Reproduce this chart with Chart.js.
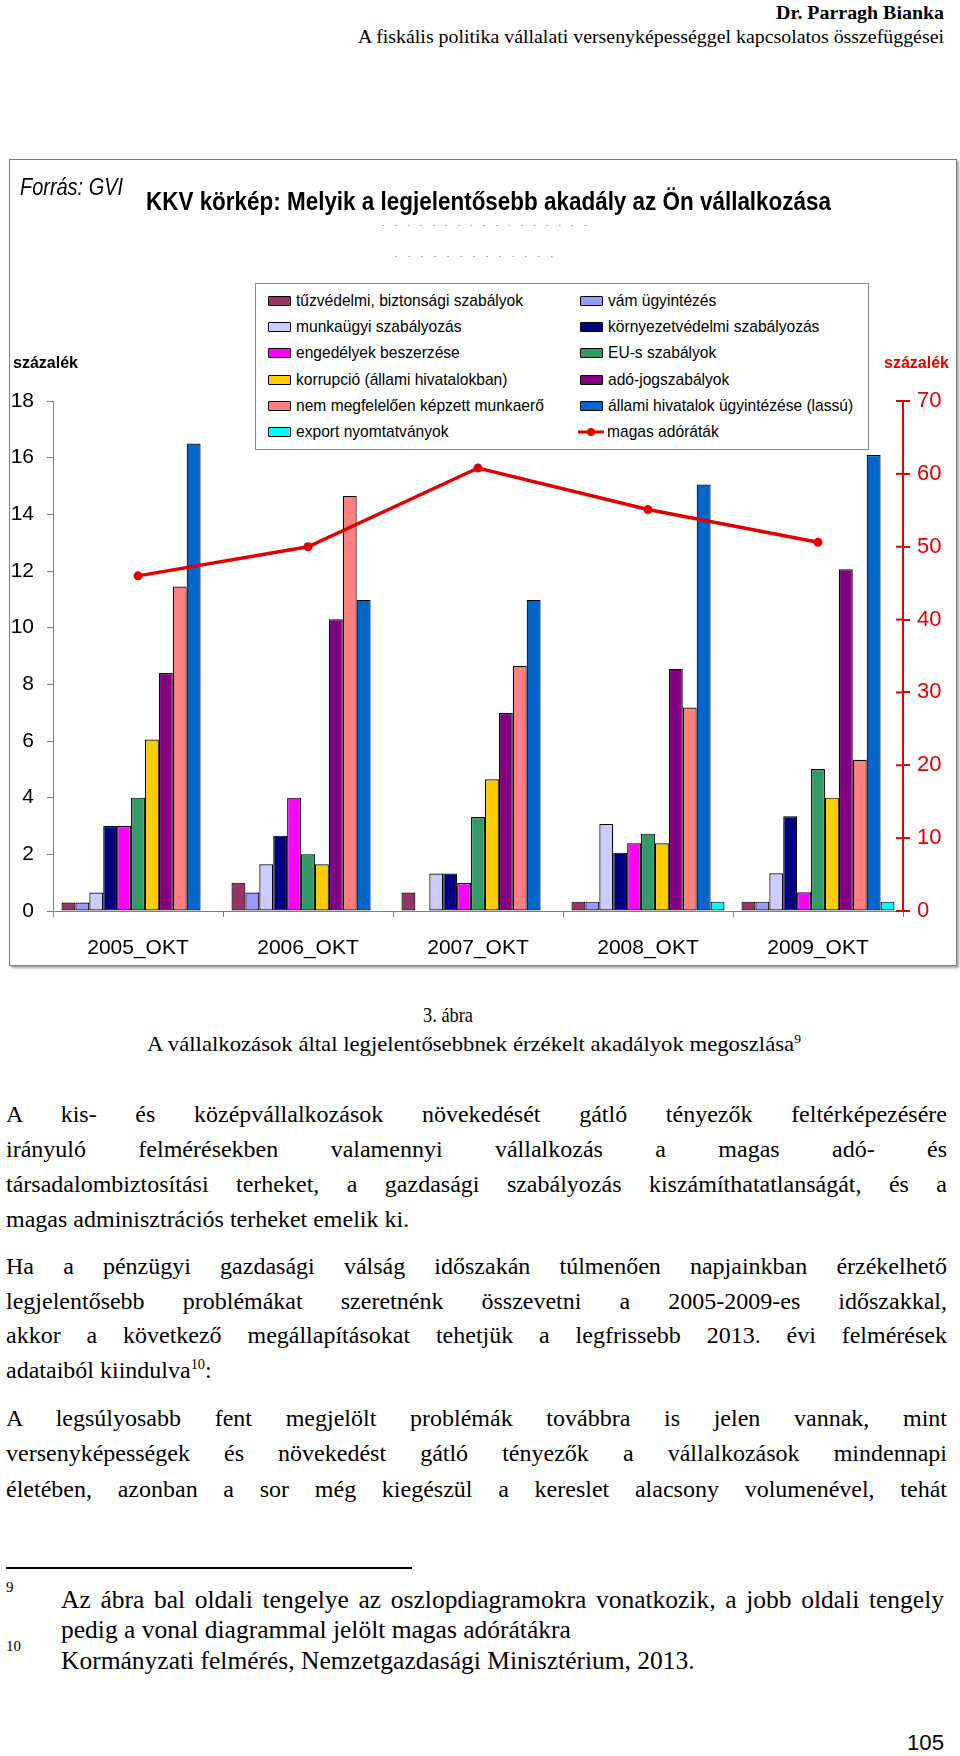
<!DOCTYPE html>
<html lang="hu">
<head>
<meta charset="utf-8">
<script src="https://cdn.jsdelivr.net/npm/chart.js@4.4.1/dist/chart.umd.min.js"></script>
<style>
  html, body { margin: 0; padding: 0; background: #fff; }
  #page { position: relative; width: 960px; height: 1756px; overflow: hidden; font-family: 'Liberation Serif', 'Times New Roman', serif; color: #000; }
  .abs { position: absolute; white-space: nowrap; }
  .sans { font-family: 'Liberation Sans', Arial, sans-serif; }
  .dots { color: #a0a0a0; font-size: 9px; letter-spacing: 1px; }
  #frame { position: absolute; left: 9px; top: 159px; width: 946px; height: 805px; border: 1px solid #7f7f7f; box-shadow: 2px 2px 2px rgba(0,0,0,0.35); background: #fff; }
  #chartBox { position: absolute; left: 0; top: 0; width: 946px; height: 805px; }
  #legend { position: absolute; left: 255px; top: 283px; width: 612px; height: 161px; border: 1px solid #8c8c8c; background: #fff;
            display: grid; grid-template-columns: 312px 300px; grid-auto-rows: 26.2px; padding-top: 4px; box-sizing: content-box; }
  #legend .it { display: flex; align-items: center; font-size: 17px; white-space: nowrap; }
  #legend .it .t { display: inline-block; transform: scaleX(0.917); transform-origin: left center; }
  #legend .sw { width: 21px; height: 8px; border: 1.5px solid #000; border-radius: 1px; margin: 0 5px 0 12px; flex: none; }
  #legend .lk { width: 26px; height: 10px; margin: 0 3px 0 10px; flex: none; }
  .ln { position: absolute; left: 6px; height: 35px; line-height: 35px; font-size: 24px; white-space: nowrap; }
  .fn { position: absolute; left: 61px; height: 30px; line-height: 30px; font-size: 25.5px; white-space: nowrap; }
  sup { font-size: 60%; line-height: 0; vertical-align: 0.6em; }
</style>
</head>
<body>
<div id="page">
  <div class="abs fit" data-w="168" style="left:776px;top:2px;font-size:19px;font-weight:bold;">Dr. Parragh Bianka</div>
  <div class="abs fit" data-w="586" style="left:358px;top:26px;font-size:19px;">A fiskális politika vállalati versenyképességgel kapcsolatos összefüggései</div>

  <div id="frame">
    <div id="chartBox"><canvas id="myChart"></canvas></div>
  </div>
  <div class="abs sans fit" data-w="103" style="left:20px;top:174px;font-size:23px;font-style:italic;">Forrás: GVI</div>
  <div class="abs sans fit" data-w="685" style="left:146px;top:187px;font-size:25px;font-weight:bold;">KKV körkép: Melyik a legjelentősebb akadály az Ön vállalkozása</div>
  <div class="abs sans dots fit" data-w="208" style="left:381px;top:218px;">. . . .  . . . .  . . . . . . . . .</div>
  <div class="abs sans dots fit" data-w="162" style="left:394px;top:249px;">. . . . . .  . . . . . . .</div>
  <div class="abs sans" style="left:13px;top:354px;font-size:16px;font-weight:bold;">százalék</div>
  <div class="abs sans" style="left:884px;top:354px;font-size:16px;font-weight:bold;color:#e00000;">százalék</div>
  <div id="legend" class="sans"></div>

  <div class="abs fit" data-w="50" style="left:423px;top:1002px;font-size:22px;">3. ábra</div>
  <div class="abs fit" data-w="654" style="left:147px;top:1031px;font-size:22px;">A vállalkozások által legjelentősebbnek érzékelt akadályok megoszlása<sup>9</sup></div>

  <div class="ln just" style="top:1097px;">A kis- és középvállalkozások növekedését gátló tényezők feltérképezésére</div>
  <div class="ln just" style="top:1132px;">irányuló felmérésekben valamennyi vállalkozás a magas adó- és</div>
  <div class="ln just" style="top:1167px;">társadalombiztosítási terheket, a gazdasági szabályozás kiszámíthatatlanságát, és a</div>
  <div class="ln" style="top:1202px;">magas adminisztrációs terheket emelik ki.</div>

  <div class="ln just" style="top:1249px;">Ha a pénzügyi gazdasági válság időszakán túlmenően napjainkban érzékelhető</div>
  <div class="ln just" style="top:1284px;">legjelentősebb problémákat szeretnénk összevetni a 2005-2009-es időszakkal,</div>
  <div class="ln just" style="top:1318px;">akkor a következő megállapításokat tehetjük a legfrissebb 2013. évi felmérések</div>
  <div class="ln" style="top:1353px;">adataiból kiindulva<sup>10</sup>:</div>

  <div class="ln just" style="top:1401px;">A legsúlyosabb fent megjelölt problémák továbbra is jelen vannak, mint</div>
  <div class="ln just" style="top:1436px;">versenyképességek és növekedést gátló tényezők a vállalkozások mindennapi</div>
  <div class="ln just" style="top:1472px;">életében, azonban a sor még kiegészül a kereslet alacsony volumenével, tehát</div>

  <div class="abs" style="left:6px;top:1567px;width:406px;height:1.5px;background:#000;"></div>
  <div class="abs" style="left:6px;top:1579px;font-size:15px;">9</div>
  <div class="fn just" data-w="883" style="top:1585px;">Az ábra bal oldali tengelye az oszlopdiagramokra vonatkozik, a jobb oldali tengely</div>
  <div class="fn" style="top:1615px;">pedig a vonal diagrammal jelölt magas adórátákra</div>
  <div class="abs" style="left:6px;top:1638px;font-size:15px;">10</div>
  <div class="fn" style="top:1646px;">Kormányzati felmérés, Nemzetgazdasági Minisztérium, 2013.</div>

  <div class="abs sans fit" data-w="37" style="left:907px;top:1730px;font-size:22px;">105</div>
</div>

<script>
// kategóriák
const years = ['2005_OKT', '2006_OKT', '2007_OKT', '2008_OKT', '2009_OKT'];

// oszlopok (bal tengely, százalék)
const tuzvedelmi   = [0.3, 1.0, 0.65, 0.33, 0.33];
const vam          = [0.3, 0.65, 0, 0.33, 0.33];
const munkaugyi    = [0.65, 1.65, 1.32, 3.07, 1.33];
const kornyezet    = [3.0, 2.66, 1.32, 2.06, 3.34];
const engedelyek   = [3.0, 4.0, 0.99, 2.39, 0.66];
const eusSzab      = [4.0, 2.0, 3.32, 2.73, 5.01];
const korrupcio    = [6.05, 1.65, 4.65, 2.39, 4.0];
const adojog       = [8.4, 10.3, 6.99, 8.55, 12.06];
const munkaero     = [11.45, 14.65, 8.65, 7.18, 5.34];
const allamiHiv    = [16.5, 10.98, 10.98, 15.05, 16.09];
const exportNyomt  = [0, 0, 0, 0.33, 0.33];

// vonal (jobb tengely, százalék)
const magasAdo     = [46.0, 50.0, 60.8, 55.1, 50.6];

const barNames = ['tűzvédelmi, biztonsági szabályok', 'vám ügyintézés', 'munkaügyi szabályozás',
  'környezetvédelmi szabályozás', 'engedélyek beszerzése', 'EU-s szabályok', 'korrupció (állami hivatalokban)',
  'adó-jogszabályok', 'nem megfelelően képzett munkaerő', 'állami hivatalok ügyintézése (lassú)', 'export nyomtatványok'];
const lineName = 'magas adóráták';

const barValues = [tuzvedelmi, vam, munkaugyi, kornyezet, engedelyek, eusSzab, korrupcio, adojog, munkaero, allamiHiv, exportNyomt];
const barColors = ['#993366', '#9999ff', '#ccccff', '#000080', '#ff00ff', '#339966', '#ffcc00', '#800080', '#ff8080', '#0066cc', '#00ffff'];
const red = '#e00000';
const sans = "'Liberation Sans', Arial, sans-serif";

const datasets = barValues.map((vals, i) => ({
  type: 'bar',
  label: barNames[i],
  data: vals,
  backgroundColor: barColors[i],
  borderColor: '#000',
  borderWidth: 1.2,
  borderSkipped: false,
  categoryPercentage: 0.9,
  barPercentage: 1.0,
  yAxisID: 'y',
  order: 1
}));
datasets.push({
  type: 'line',
  label: lineName,
  data: magasAdo,
  borderColor: red,
  backgroundColor: red,
  borderWidth: 3.5,
  pointRadius: 4.5,
  pointBackgroundColor: red,
  pointBorderWidth: 0,
  tension: 0,
  yAxisID: 'y1',
  order: 0
});

// jobb tengely: a jelölők a tengelyen túl is átnyúlnak
const crossTicks = {
  id: 'crossTicks',
  afterDraw(chart) {
    const s = chart.scales.y1;
    const c = chart.ctx;
    c.save();
    c.strokeStyle = red;
    c.lineWidth = 2;
    s.ticks.forEach((t, i) => {
      const y = s.getPixelForTick(i);
      c.beginPath();
      c.moveTo(s.left - 7, y);
      c.lineTo(s.left, y);
      c.stroke();
    });
    c.restore();
  }
};

const chart = new Chart(document.getElementById('myChart'), {
  data: { labels: years, datasets: datasets },
  options: {
    responsive: true,
    maintainAspectRatio: false,
    animation: false,
    layout: { padding: { top: 241, left: 0, right: 0, bottom: 0 } },
    plugins: { legend: { display: false }, tooltip: { enabled: false } },
    scales: {
      x: {
        offset: true,
        grid: { offset: true, drawOnChartArea: false, tickLength: 6, color: '#808080' },
        border: { color: '#808080' },
        ticks: { color: '#000', font: { family: sans, size: 21 }, padding: 19 },
        afterFit: s => { s.height = 54; }
      },
      y: {
        position: 'left',
        min: 0, max: 18,
        ticks: { stepSize: 2, color: '#000', font: { family: sans, size: 21 }, padding: 13 },
        grid: { drawOnChartArea: false, tickLength: 6, color: '#808080' },
        border: { color: '#808080' },
        afterFit: s => { s.width = 43; }
      },
      y1: {
        position: 'right',
        min: 0, max: 70,
        ticks: { stepSize: 10, color: red, font: { family: sans, size: 22 }, padding: 7 },
        grid: { drawOnChartArea: false, tickLength: 7, color: red, lineWidth: 2 },
        border: { color: red, width: 2 },
        afterFit: s => { s.width = 53; }
      }
    }
  },
  plugins: [crossTicks]
});

// jelmagyarázat két oszlopban, soronként a sorozatok sorrendjében
const legendEl = document.getElementById('legend');
chart.data.datasets.forEach(ds => {
  const item = document.createElement('div');
  item.className = 'it';
  if (ds.type === 'line') {
    item.innerHTML = '<svg class="lk" width="26" height="10"><line x1="0" y1="5" x2="26" y2="5" stroke="' + ds.borderColor +
      '" stroke-width="3"/><circle cx="13" cy="5" r="4" fill="' + ds.borderColor + '"/></svg>';
  } else {
    item.innerHTML = '<span class="sw" style="background:' + ds.backgroundColor + '"></span>';
  }
  const txt = document.createElement('span');
  txt.className = 't';
  txt.textContent = ds.label;
  item.appendChild(txt);
  legendEl.appendChild(item);
});

// szöveg: szélesség illesztése és sorkizárás
document.querySelectorAll('.fit').forEach(el => {
  const nat = el.getBoundingClientRect().width;
  el.style.transformOrigin = 'left center';
  el.style.transform = 'scaleX(' + (+el.dataset.w / nat) + ')';
});
document.querySelectorAll('.just').forEach(el => {
  const target = +(el.dataset.w || 941);
  const nat = el.getBoundingClientRect().width;
  const spaces = (el.textContent.match(/ /g) || []).length;
  if (spaces) el.style.wordSpacing = ((target - nat) / spaces) + 'px';
});
</script>
</body>
</html>
